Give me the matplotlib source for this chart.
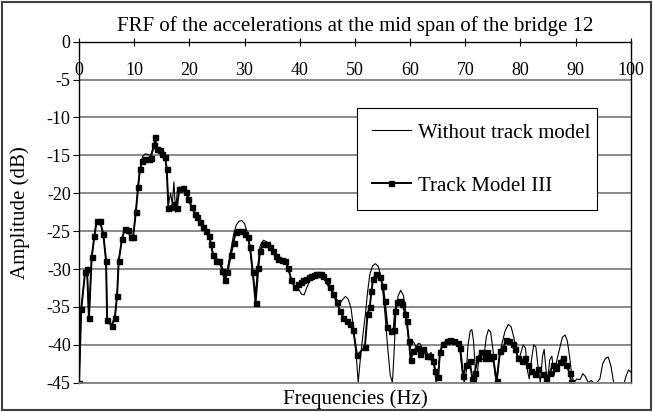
import matplotlib
matplotlib.use("Agg")
from matplotlib import pyplot as plt
from matplotlib.patches import Rectangle

# Track Model III (markers)
freq_track = [0.0, 0.4, 1.1, 1.45, 1.8, 2.3, 2.8, 3.2, 3.8, 4.4, 4.9, 5.1, 5.9, 6.5, 6.9,
              7.2, 7.8, 8.3, 8.8, 9.4, 9.8, 10.3, 10.7, 11.05, 11.5, 12.0, 12.6, 13.0,
              13.6, 13.8, 14.1, 14.6, 15.0, 15.6, 15.9, 16.2, 16.8, 17.3, 17.7, 18.2,
              18.8, 19.4, 19.8, 20.4, 21.0, 21.4, 21.9, 22.5, 23.1, 23.6, 23.9, 24.3,
              24.9, 25.4, 26.0, 26.4, 26.9, 27.5, 28.0, 28.4, 28.9, 29.5, 30.1, 30.6,
              31.0, 31.5, 32.0, 32.5, 32.8, 33.4, 34.0, 34.6, 35.2, 35.7, 36.1, 36.7,
              37.3, 37.9, 38.5, 39.1, 39.7, 40.2, 40.6, 41.1, 41.6, 42.1, 42.5, 43.0,
              43.4, 43.9, 44.3, 44.9, 45.5, 46.1, 46.7, 47.3, 47.9, 48.5, 49.1, 49.7,
              50.4, 51.8, 52.3, 52.7, 53.0, 53.3, 53.9, 54.5, 55.1, 55.4, 55.9, 56.5,
              57.0, 57.3, 57.6, 58.2, 58.6, 59.1, 59.4, 59.8, 60.1, 60.6, 61.2, 61.8,
              62.4, 63.0, 63.6, 64.2, 64.6, 65.1, 65.4, 65.9, 66.6, 67.2, 67.9, 68.7,
              69.1, 69.6, 70.2, 70.8, 71.3, 71.7, 72.3, 72.9, 73.6, 74.0, 74.5, 75.0,
              75.7, 76.3, 76.9, 77.4, 78.0, 78.6, 79.0, 79.6, 80.2, 80.8, 81.4, 82.0,
              82.6, 83.2, 84.1, 84.7, 85.3, 85.9, 86.5, 87.1, 87.7, 88.3, 88.9, 89.2]
amp_track = [-45.0, -35.3, -30.4, -30.0, -36.5, -28.4, -25.6, -23.6, -23.7, -25.4, -28.9,
             -36.7, -37.5, -36.4, -33.5, -28.9, -26.0, -24.7, -24.9, -25.8, -25.8, -22.5,
             -19.2, -16.8, -15.7, -15.5, -15.5, -15.3, -13.6, -12.6, -14.1, -14.3, -14.8,
             -15.2, -16.8, -22.0, -21.8, -21.4, -22.0, -19.4, -19.3, -19.9, -20.7, -21.8,
             -22.7, -23.2, -23.8, -24.5, -25.0, -25.6, -26.7, -28.2, -28.9, -28.9, -30.2,
             -31.5, -30.4, -28.2, -26.5, -25.1, -25.0, -25.0, -25.4, -25.8, -27.1, -30.4,
             -34.5, -29.8, -27.6, -26.7, -26.7, -27.1, -27.6, -28.3, -28.7, -28.8, -28.9,
             -29.8, -31.5, -32.4, -32.0, -31.7, -31.5, -31.3, -31.1, -30.9, -30.8, -30.7,
             -30.6, -30.7, -30.9, -31.5, -32.4, -33.3, -34.4, -35.5, -36.4, -36.9, -37.3,
             -38.1, -41.4, -40.3, -35.9, -35.0, -32.9, -31.3, -30.6, -31.0, -32.2, -34.2,
             -37.6, -38.2, -38.1, -35.5, -34.4, -34.2, -34.6, -35.9, -36.8, -39.5, -42.0,
             -40.8, -40.4, -41.2, -40.6, -41.5, -41.5, -42.1, -43.4, -44.2, -41.0, -39.9,
             -39.5, -39.4, -39.5, -39.7, -40.4, -44.1, -42.6, -42.1, -44.5, -43.7, -41.7,
             -41.0, -41.7, -41.0, -41.7, -41.5, -44.8, -40.8, -40.4, -39.3, -39.5, -39.9,
             -40.6, -41.7, -42.1, -41.7, -42.6, -43.4, -43.9, -43.2, -43.9, -44.4, -43.7,
             -42.6, -43.0, -42.3, -41.7, -42.6, -43.7, -44.9]

# Without track model (thin line)
freq_free = [0.0, 0.4, 1.1, 1.45, 1.8, 2.3, 2.8, 3.2, 3.8, 4.4, 4.9, 5.1, 5.9, 6.5, 6.9,
             7.2, 7.8, 8.3, 8.8, 9.4, 9.8, 10.3, 10.7, 11.05, 11.5, 12.0, 12.6, 13.0,
             13.8, 14.1, 14.6, 15.0, 15.6, 15.9, 16.2, 16.6, 16.9, 17.2, 17.5, 17.8,
             18.2, 18.8, 19.4, 19.8, 20.4, 21.0, 21.4, 21.9, 22.5, 23.1, 23.6, 23.9,
             24.3, 24.9, 25.4, 26.0, 26.4, 26.9, 27.5, 28.0, 28.5, 29.0, 29.5, 30.0,
             30.5, 31.0, 31.5, 32.0, 32.5, 32.8, 33.4, 34.0, 34.6, 35.2, 36.1, 36.7,
             37.3, 37.9, 38.5, 39.1, 39.7, 40.3, 40.8, 41.3, 41.8, 42.5, 43.4, 44.3,
             44.9, 45.5, 46.1, 46.7, 47.3, 47.8, 48.3, 48.8, 49.3, 49.8, 50.3, 50.6,
             50.9, 51.4, 51.9, 52.3, 52.7, 53.2, 53.7, 54.2, 54.6, 55.0, 55.4, 55.9,
             56.4, 56.8, 57.1, 57.4, 57.8, 58.3, 58.8, 59.2, 59.6, 60.0, 60.4, 60.8,
             61.1, 61.5, 61.9, 62.3, 62.8, 63.3, 63.8, 64.3, 64.7, 65.0, 65.4, 65.9,
             66.6, 67.2, 67.9, 68.6, 69.0, 69.4, 69.8, 70.2, 70.5, 70.9, 71.2, 71.5,
             71.8, 72.0, 72.3, 72.6, 73.0, 73.4, 73.8, 74.2, 74.6, 75.0, 75.4, 75.7,
             76.1, 76.6, 77.2, 77.8, 78.3, 78.8, 79.3, 79.7, 80.1, 80.5, 80.9, 81.3,
             81.6, 82.0, 82.4, 82.8, 83.2, 83.6, 84.0, 84.3, 84.6, 84.9, 85.3, 85.7,
             86.1, 86.6, 87.1, 87.6, 88.1, 88.5, 88.9, 89.3, 89.7, 90.2, 90.8, 91.3,
             91.8, 92.3, 92.8, 93.3, 93.8, 94.4, 94.9, 95.4, 95.9, 96.4, 96.9, 97.5,
             98.2, 98.8, 99.2, 99.6, 100.0]
amp_free = [-45.0, -35.3, -30.4, -30.0, -36.5, -28.4, -25.6, -23.6, -23.7, -25.4, -28.9,
            -36.7, -37.5, -36.4, -33.5, -28.9, -26.0, -24.7, -24.9, -25.8, -25.8, -22.5,
            -19.2, -16.8, -15.2, -14.8, -14.9, -15.0, -13.4, -14.3, -14.4, -14.9, -15.3,
            -17.0, -21.5, -20.0, -21.5, -18.5, -22.5, -19.8, -19.2, -19.3, -19.8, -20.6,
            -21.7, -22.6, -23.1, -23.7, -24.4, -24.9, -25.5, -26.5, -28.0, -28.6, -28.8,
            -29.8, -31.0, -30.0, -27.5, -25.5, -24.2, -23.7, -23.6, -24.0, -25.2, -27.5,
            -31.0, -33.0, -29.0, -27.0, -26.2, -26.4, -27.0, -27.5, -28.5, -28.6, -28.8,
            -30.0, -31.5, -32.2, -32.5, -33.3, -33.4, -32.4, -31.6, -31.0, -30.8, -31.2,
            -32.0, -32.6, -33.2, -34.0, -34.5, -34.0, -33.6, -34.0, -35.2, -38.0, -42.0,
            -45.0, -42.5, -39.0, -36.0, -33.0, -30.7, -29.6, -29.3, -29.6, -30.6, -32.5,
            -35.5, -40.0, -44.0, -45.0, -41.0, -36.0, -33.6, -32.8, -33.5, -35.5, -38.5,
            -40.5, -39.5, -39.8, -40.4, -39.8, -39.9, -40.8, -40.5, -41.4, -41.0, -42.5,
            -45.0, -44.0, -41.5, -39.9, -39.5, -39.3, -39.4, -39.7, -40.6, -43.0, -45.0,
            -43.5, -40.0, -38.2, -38.0, -39.5, -43.0, -45.0, -43.0, -41.0, -42.0, -41.5,
            -39.0, -38.0, -38.3, -40.5, -44.0, -45.0, -42.0, -40.0, -38.2, -37.3, -37.6,
            -39.0, -41.0, -42.0, -41.0, -40.0, -40.4, -43.5, -44.5, -42.0, -40.0, -40.3,
            -43.0, -45.0, -41.5, -40.6, -43.0, -45.0, -42.0, -41.5, -44.0, -42.0, -40.5,
            -39.0, -38.7, -39.5, -41.5, -44.0, -45.0, -44.5, -44.6, -43.8, -44.2, -45.0,
            -44.7, -45.0, -45.0, -44.5, -42.5, -41.8, -41.6, -42.8, -45.0, -45.0, -45.0,
            -45.0, -44.0, -43.3, -43.6]

x_ticks = list(range(0, 101, 10))
y_ticks = list(range(0, -46, -5))

plt.rcParams["font.family"] = "Liberation Serif"
plt.rcParams["font.size"] = 13
plt.rcParams["axes.unicode_minus"] = False

fig = plt.figure(figsize=(6.53, 4.12), dpi=100)
ax = fig.add_axes([0.121, 0.071, 0.845, 0.828])

ax.plot(freq_free, amp_free, color="black", lw=0.8, label="Without track model")
ax.plot(freq_track, amp_track, color="black", lw=1.4, marker="s", ms=3.6,
        label="Track Model III")

ax.set_xlim(0, 100)
ax.set_ylim(-45, 0)
ax.set_xticks(x_ticks)
ax.set_yticks(y_ticks)
ax.yaxis.grid(True, color="#808080", lw=1.3)
ax.set_axisbelow(True)

for side in ["left", "top", "right"]:
    ax.spines[side].set_color("black")
    ax.spines[side].set_linewidth(1.0)
ax.spines["bottom"].set_color("#808080")
ax.spines["bottom"].set_linewidth(1.3)

ax.tick_params(axis="x", top=True, bottom=False, labeltop=True, labelbottom=False,
               direction="inout", length=6, pad=-30, labelsize=13)
ax.tick_params(axis="y", direction="out", length=4, pad=2, labelsize=13)

ax.set_title("FRF of the accelerations at the mid span of the bridge 12", fontsize=15, pad=8)
ax.set_ylabel("Amplitude (dB)", fontsize=15, labelpad=12)
ax.set_xlabel("Frequencies (Hz)", fontsize=15, labelpad=5)

leg = ax.legend(loc="upper left", bbox_to_anchor=(0.504, 0.497, 0.434, 0.307), mode="expand",
                numpoints=1, frameon=True, fancybox=False, framealpha=1, edgecolor="black",
                fontsize=15, handlelength=1.9, handletextpad=0.3, labelspacing=1.6,
                borderpad=0.7, borderaxespad=0)
leg.get_frame().set_linewidth(0.8)

fig.patches.append(Rectangle((0.003, 0.004), 0.994, 0.992, transform=fig.transFigure,
                             fill=False, edgecolor="#404040", lw=1.5))

fig.savefig("out.png", dpi=100)
